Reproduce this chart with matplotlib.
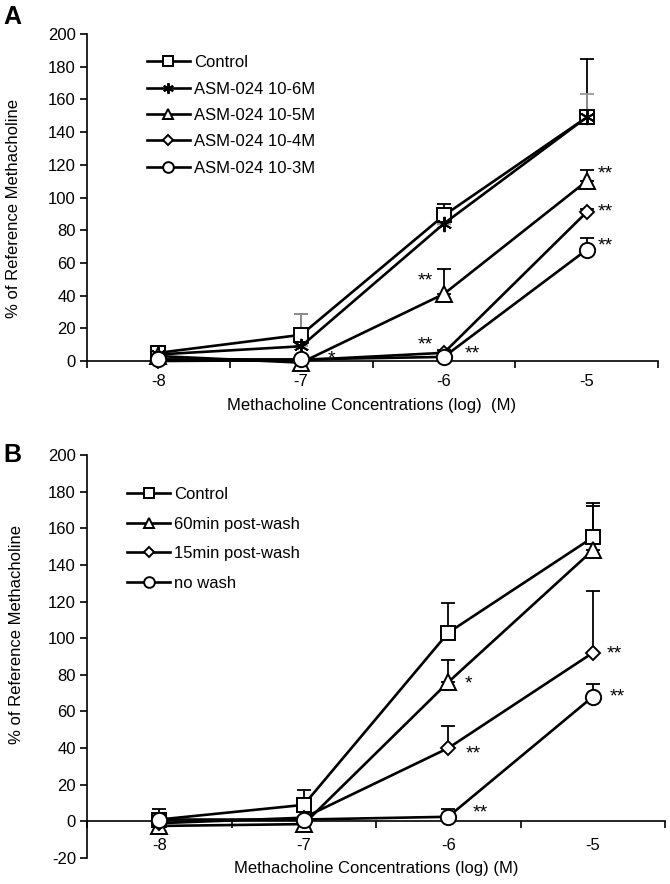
import matplotlib
matplotlib.use("Agg")
import matplotlib.pyplot as plt
from matplotlib.ticker import FixedLocator

plt.rcParams['font.family'] = ['Liberation Sans', 'DejaVu Sans']
plt.rcParams['font.size'] = 12
plt.rcParams['axes.unicode_minus'] = False

# x positions: log concentration of methacholine
conc = [-8, -7, -6, -5]

# panel A: mean and upper error
a_labels = ["Control", "ASM-024 10-6M", "ASM-024 10-5M", "ASM-024 10-4M", "ASM-024 10-3M"]
a_ctrl = [5, 16, 89, 149]
a_ctrl_err = [4, 13, 7, 36]
a_m6 = [4, 9, 84, 149]
a_m6_err = [0, 20, 0, 14]
a_m5 = [3, -1, 41, 110]
a_m5_err = [0, 0, 15, 7]
a_m4 = [0, 0.5, 5, 91]
a_m4_err = [0, 0, 2, 2]
a_m3 = [1, 1, 2.5, 68]
a_m3_err = [0, 0, 0, 7]

# significance marks panel A (x, y, text)
a_sig_x = [-6.79, -6.13, -6.13, -5.80, -4.87, -4.87, -4.87]
a_sig_y = [2.5, 50, 11, 5.5, 115.6, 92, 71.6]
a_sig_t = ["*", "**", "**", "**", "**", "**", "**"]

# panel B
b_labels = ["Control", "60min post-wash", "15min post-wash", "no wash"]
b_ctrl = [1, 9, 103, 155]
b_ctrl_err = [6, 8, 16, 19]
b_60 = [-2.5, -1.5, 76, 148]
b_60_err = [0, 0, 12, 24]
b_15 = [-1, 2, 40, 92]
b_15_err = [0, 0, 12, 34]
b_nw = [1, 1, 2.5, 68]
b_nw_err = [0, 0, 4, 7]

b_sig_x = [-5.86, -5.83, -5.78, -4.85, -4.83]
b_sig_y = [75.7, 38, 5.4, 92.6, 69]
b_sig_t = ["*", "**", "**", "**", "**"]

star = (6, 2, 0)
fig = plt.figure(figsize=(6.7, 8.84), dpi=100)
axA = fig.add_axes([87/670, 1-361/884, (658-87)/670, (361-34)/884])
axB = fig.add_axes([87/670, 1-858/884, (665-87)/670, (858-455)/884])


def draw_series(ax, y, err, marker, ms, label, ecolor='black'):
    ax.errorbar(conc, y, yerr=[[0]*len(err), err], fmt='none', ecolor=ecolor,
                elinewidth=1.3, capsize=5, capthick=1.3, zorder=2, clip_on=False)
    ax.plot(conc, y, color='black', lw=1.9, marker=marker, ms=ms,
            mfc='white', mec='black', mew=1.4, label=label, zorder=3, clip_on=False)


def style_axis(ax, ylo):
    ax.set_xlim(-8.5, -4.5)
    ax.set_ylim(ylo, 200)
    ax.spines['top'].set_visible(False)
    ax.spines['right'].set_visible(False)
    ax.spines['left'].set_linewidth(1.2)
    ax.spines['bottom'].set_linewidth(1.2)
    ax.spines['bottom'].set_position(('data', 0))
    ax.set_yticks(range(ylo, 201, 20))
    ax.set_xticks(conc)
    ax.xaxis.set_minor_locator(FixedLocator([-8.5, -7.5, -6.5, -5.5, -4.5]))
    ax.tick_params(axis='x', which='major', length=0, labelsize=12)
    ax.tick_params(axis='x', which='minor', length=5, width=1.2, direction='out')
    ax.tick_params(axis='y', length=5, width=1.2, direction='out', labelsize=12, pad=3)


def add_marks(ax, xs, ys, ts):
    # asterisk glyph sits high in the line, so anchor on the baseline a bit lower
    for x, y, t in zip(xs, ys, ts):
        ax.annotate(t, (x, y), xytext=(0, -4.5), textcoords='offset points',
                    fontsize=14, ha='center', va='baseline', zorder=5)


draw_series(axA, a_ctrl, a_ctrl_err, 's', 10.5, a_labels[0])
draw_series(axA, a_m6, a_m6_err, star, 11, a_labels[1], ecolor='#999999')
draw_series(axA, a_m5, a_m5_err, '^', 11, a_labels[2])
draw_series(axA, a_m4, a_m4_err, 'D', 7.5, a_labels[3])
draw_series(axA, a_m3, a_m3_err, 'o', 11, a_labels[4])
style_axis(axA, 0)
axA.tick_params(axis='x', which='major', pad=9)
add_marks(axA, a_sig_x, a_sig_y, a_sig_t)
axA.legend(loc='upper left', bbox_to_anchor=(0.078, 0.981), frameon=False,
           handlelength=2.6, labelspacing=0.68, markerscale=0.7,
           handletextpad=0.25, fontsize=12)

draw_series(axB, b_ctrl, b_ctrl_err, 's', 10.5, b_labels[0])
draw_series(axB, b_60, b_60_err, '^', 11, b_labels[1])
draw_series(axB, b_15, b_15_err, 'D', 7.5, b_labels[2])
draw_series(axB, b_nw, b_nw_err, 'o', 11, b_labels[3])
style_axis(axB, -20)
axB.tick_params(axis='x', which='major', pad=12)
add_marks(axB, b_sig_x, b_sig_y, b_sig_t)
axB.legend(loc='upper left', bbox_to_anchor=(0.043, 0.958), frameon=False,
           handlelength=2.6, labelspacing=0.88, markerscale=0.7,
           handletextpad=0.25, fontsize=12)

fig.text(14/670, 1-208/884, "% of Reference Methacholine", rotation=90,
         ha='center', va='center', fontsize=12)
fig.text(17/670, 1-635/884, "% of Reference Methacholine", rotation=90,
         ha='center', va='center', fontsize=12)
fig.text(372/670, 1-406/884, "Methacholine Concentrations (log)  (M)",
         ha='center', va='center', fontsize=12)
fig.text(376/670, 1-869/884, "Methacholine Concentrations (log) (M)",
         ha='center', va='center', fontsize=12)
fig.text(12/670, 1-17/884, "A", fontsize=18, fontweight='bold', ha='center', va='center')
fig.text(12/670, 1-455/884, "B", fontsize=18, fontweight='bold', ha='center', va='center')

fig.savefig("out.png", dpi=100)
